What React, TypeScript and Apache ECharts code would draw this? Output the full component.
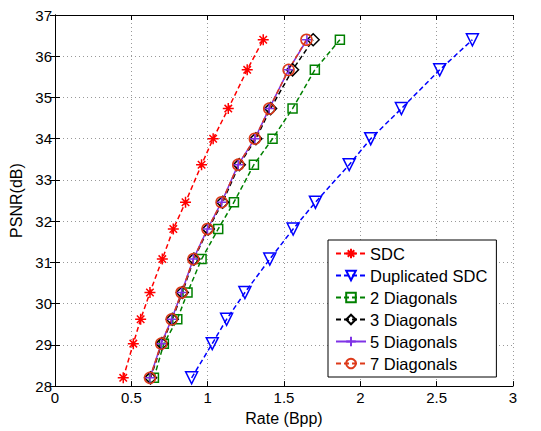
import React, { useEffect, useRef } from "react";
import * as echarts from "echarts";

const psnr = [28.2, 29.03, 29.62, 30.27, 31.08, 31.81, 32.46, 33.37, 34.0, 34.73, 35.67, 36.4];
const rateSDC = [0.447, 0.513, 0.561, 0.622, 0.703, 0.775, 0.855, 0.96, 1.036, 1.135, 1.259, 1.364];
const rateDup = [0.895, 1.03, 1.124, 1.244, 1.407, 1.56, 1.706, 1.927, 2.068, 2.269, 2.52, 2.734];
const rate2 = [0.648, 0.713, 0.801, 0.868, 0.96, 1.069, 1.172, 1.303, 1.425, 1.556, 1.702, 1.866];
const rate3 = [0.626, 0.7, 0.768, 0.834, 0.91, 1.004, 1.098, 1.207, 1.316, 1.412, 1.556, 1.691];
const rate5 = [0.622, 0.696, 0.764, 0.829, 0.906, 0.999, 1.091, 1.2, 1.309, 1.403, 1.53, 1.65];
const rate7 = [0.622, 0.696, 0.764, 0.829, 0.906, 0.999, 1.091, 1.2, 1.309, 1.403, 1.53, 1.647];

const seriesNames = ["SDC", "Duplicated SDC", "2 Diagonals", "3 Diagonals", "5 Diagonals", "7 Diagonals"];

const FONT = "Liberation Sans, Arial, sans-serif";

const ASTER = "path://M5 0 L5 10 M0 5 L10 5 M1.6 1.6 L8.4 8.4 M1.6 8.4 L8.4 1.6";
const PLUS = "path://M5 0 L5 10 M0 5 L10 5";
const TRI_DOWN = "path://M0 0 L10 0 L5 8.7 Z";

function pairs(xs: number[], ys: number[]) {
  return xs.map((x, i) => [x, ys[i]]);
}

export default function App() {
  const ref = useRef<HTMLDivElement>(null);
  useEffect(() => {
    if (!ref.current) return;
    const chart = echarts.init(ref.current, undefined, { renderer: "svg" });
    const mk = (
      name: string,
      xs: number[],
      color: string,
      symbol: string,
      size: number,
      dashed: boolean
    ) => ({
      name,
      type: "line",
      xAxisIndex: 0,
      yAxisIndex: 0,
      data: pairs(xs, psnr),
      symbol,
      symbolSize: size,
      showSymbol: true,
      lineStyle: { color, width: 1.5, type: dashed ? [5, 3] : "solid" },
      itemStyle: { color: "transparent", borderColor: color, borderWidth: 1.5 },
      emphasis: { disabled: true },
      z: 2,
    });
    const axisCommon = {
      type: "value",
      axisLine: { show: true, lineStyle: { color: "#000", width: 1 } },
      axisTick: { show: true, inside: true, length: 5, lineStyle: { color: "#000" } },
    };
    chart.setOption({
      animation: false,
      backgroundColor: "#fff",
      grid: { left: 55, right: 28, top: 15, bottom: 39, show: false },
      xAxis: [
        {
          ...axisCommon,
          position: "bottom",
          min: 0,
          max: 3,
          interval: 0.5,
          name: "Rate (Bpp)",
          nameLocation: "middle",
          nameGap: 21,
          nameTextStyle: { fontFamily: FONT, fontSize: 16, color: "#000" },
          axisLabel: { fontFamily: FONT, fontSize: 15, color: "#000", margin: 4 },
          splitLine: { show: true, lineStyle: { color: "#999", type: [1, 3], width: 1 } },
        },
        {
          ...axisCommon,
          position: "top",
          min: 0,
          max: 3,
          interval: 0.5,
          axisLabel: { show: false },
          splitLine: { show: false },
        },
      ],
      yAxis: [
        {
          ...axisCommon,
          position: "left",
          min: 28,
          max: 37,
          interval: 1,
          name: "PSNR(dB)",
          nameLocation: "middle",
          nameGap: 27,
          nameTextStyle: { fontFamily: FONT, fontSize: 16, color: "#000" },
          axisLabel: { fontFamily: FONT, fontSize: 15, color: "#000", margin: 3 },
          splitLine: { show: true, lineStyle: { color: "#999", type: [1, 3], width: 1 } },
        },
        {
          ...axisCommon,
          position: "right",
          min: 28,
          max: 37,
          interval: 1,
          axisLabel: { show: false },
          splitLine: { show: false },
        },
      ],
      legend: {
        data: seriesNames,
        orient: "vertical",
        left: 328,
        top: 240,
        padding: [5, 9, 5, 7],
        itemGap: 5,
        itemWidth: 30,
        itemHeight: 12,
        backgroundColor: "#fff",
        borderColor: "#000",
        borderWidth: 1,
        borderRadius: 0,
        textStyle: { fontFamily: FONT, fontSize: 16.5, color: "#000", padding: [0, 0, 0, -1] },
        selectedMode: false,
      },
      series: [
        mk("SDC", rateSDC, "#ff0000", ASTER, 11, true),
        mk("Duplicated SDC", rateDup, "#0000ff", TRI_DOWN, 12, true),
        mk("2 Diagonals", rate2, "#008000", "rect", 9, true),
        mk("3 Diagonals", rate3, "#000000", "diamond", 12, true),
        mk("5 Diagonals", rate5, "#7f33e6", PLUS, 10, false),
        mk("7 Diagonals", rate7, "#dd3a1a", "circle", 11, true),
      ],
    });
    return () => chart.dispose();
  }, []);
  return <div ref={ref} style={{ width: 541, height: 431, position: "absolute", left: 0, top: 0 }} />;
}
